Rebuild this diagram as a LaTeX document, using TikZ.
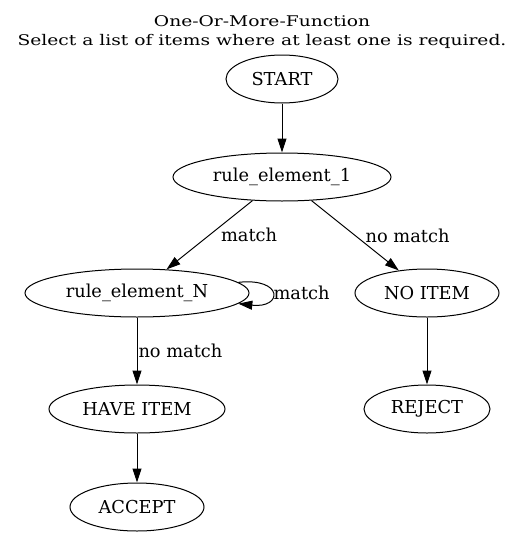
\documentclass[tikz,border=0pt]{standalone}
\usepackage{fontspec}
\setmainfont{DejaVu Serif}
\newfontfamily\titlefont[FakeStretch=1.27]{DejaVu Serif}
\usetikzlibrary{shapes.geometric,arrows.meta}

\begin{document}
\begin{tikzpicture}[x=1pt,y=-1pt,
  state/.style={ellipse,draw,line width=1pt,inner sep=0pt,minimum height=48pt,font=\fontsize{17.8}{20}\selectfont},
  edge/.style={line width=1pt,-{Triangle[length=14pt,width=9pt]}},
  lbl/.style={inner sep=0pt,anchor=west,font=\fontsize{17.8}{20}\selectfont}]
\def\colL{137}
\def\colM{282}
\def\colR{427}
\def\rowZero{79}
\def\rowOne{177}
\def\rowTwo{293}
\def\rowThree{409}
\def\rowFour{507}
\useasboundingbox (0,0) rectangle (525,536);
\node[align=center,font=\titlefont\fontsize{14.7}{19}\selectfont] (title) at (262,32)
  {One-Or-More-Function\\Select a list of items where at least one is required.};
\path
(\colM,\rowZero) node [state,minimum width=112pt] (start) {START}
(\colM,\rowOne) node [state,minimum width=218pt] (ruleOne) {rule\_element\_1}
(\colL,\rowTwo) node [state,minimum width=224pt] (ruleN) {rule\_element\_N}
(\colR,\rowTwo) node [state,minimum width=144pt] (noItem) {NO ITEM}
(\colL,\rowThree) node [state,minimum width=176pt] (haveItem) {HAVE ITEM}
(\colR,\rowThree) node [state,minimum width=126pt] (reject) {REJECT}
(\colL,\rowFour) node [state,minimum width=134pt] (accept) {ACCEPT}
;

\draw[edge] (start) -- (ruleOne);
\draw[edge] (ruleOne) -- node[lbl,pos=.5,xshift=11pt] {match} (ruleN);
\draw[edge] (ruleOne) -- node[lbl,pos=.5,xshift=10pt] {no match} (noItem);
\draw[edge] (ruleN.6) .. controls +(45,-5) and +(45,5) .. node[lbl,pos=.5,xshift=1pt] {match} (ruleN.-6);
\draw[edge] (ruleN) -- node[lbl,pos=.5,xshift=1pt] {no match} (haveItem);
\draw[edge] (noItem) -- (reject);
\draw[edge] (haveItem) -- (accept);
\end{tikzpicture}
\end{document}
